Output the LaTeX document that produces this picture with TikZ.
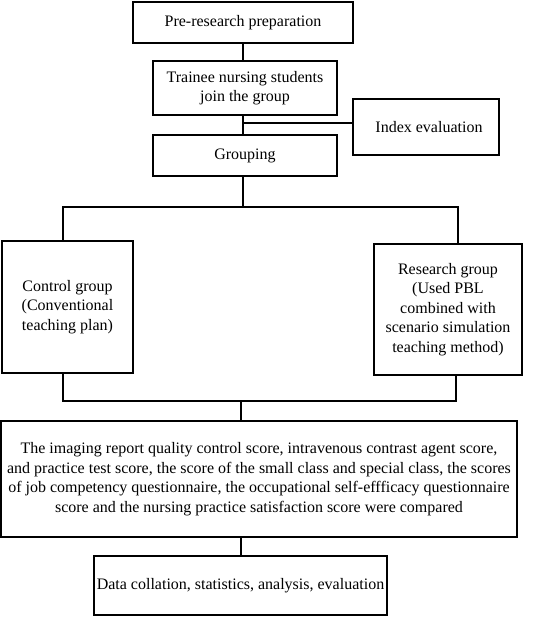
\documentclass[tikz,border=0pt]{standalone}
\usepackage{fontspec}
\setmainfont{Liberation Serif}
\begin{document}
\begin{tikzpicture}[x=1pt,y=-1pt,
  box/.style={draw, line width=1.1pt, rectangle, align=center, inner sep=1pt,
    font=\fontsize{16}{19.5}\selectfont},
  conn/.style={draw, line width=1.1pt}]
\useasboundingbox (0,0) rectangle (533,617);
\node[box, minimum width=220pt, minimum height=41pt] (pre) at (243,22.5) {Pre-research preparation};
\node[box, minimum width=184pt, minimum height=54pt] (trainee) at (245,88) {Trainee nursing students\\join the group};
\node[box, minimum width=146pt, minimum height=56pt] (index) at (426,127) {\hspace*{6pt}Index evaluation};
\node[box, minimum width=184pt, minimum height=41pt] (grouping) at (245,155.5) {Grouping};
\node[box, minimum width=131pt, minimum height=132pt] (control) at (67.5,307) {Control group\\(Conventional\\teaching plan)};
\node[box, minimum width=148pt, minimum height=131pt] (research) at (448,309.5) {Research group\\(Used PBL\\combined with\\scenario simulation\\teaching method)};
\node[box, minimum width=516pt, minimum height=116pt] (big) at (259,479) {The imaging report quality control score, intravenous contrast agent score,\\and practice test score, the score of the small class and special class, the scores\\of job competency questionnaire, the occupational self-effficacy questionnaire\\score and the nursing practice satisfaction score were compared};
\node[box, minimum width=293pt, minimum height=59pt] (data) at (240.5,585.5) {Data collation, statistics, analysis, evaluation};

\coordinate (b1) at (243,123);
\coordinate (s1) at (243,207);
\coordinate (sl) at (63,207);
\coordinate (sr) at (458,207);
\coordinate (jl) at (63,401);
\coordinate (jr) at (456,401);
\coordinate (jm) at (241,401);

\draw[conn] (pre.south -| b1) -- (trainee.north -| b1);
\draw[conn] (trainee.south -| b1) -- (grouping.north -| b1);
\draw[conn] (b1) -- (index.west |- b1);
\draw[conn] (grouping.south -| s1) -- (s1);
\draw[conn] (control.north -| sl) -- (sl) -- (sr) -- (research.north -| sr);
\draw[conn] (control.south -| jl) -- (jl) -- (jr) -- (research.south -| jr);
\draw[conn] (jm) -- (big.north -| jm);
\draw[conn] (big.south -| jm) -- (data.north -| jm);
\end{tikzpicture}
\end{document}
